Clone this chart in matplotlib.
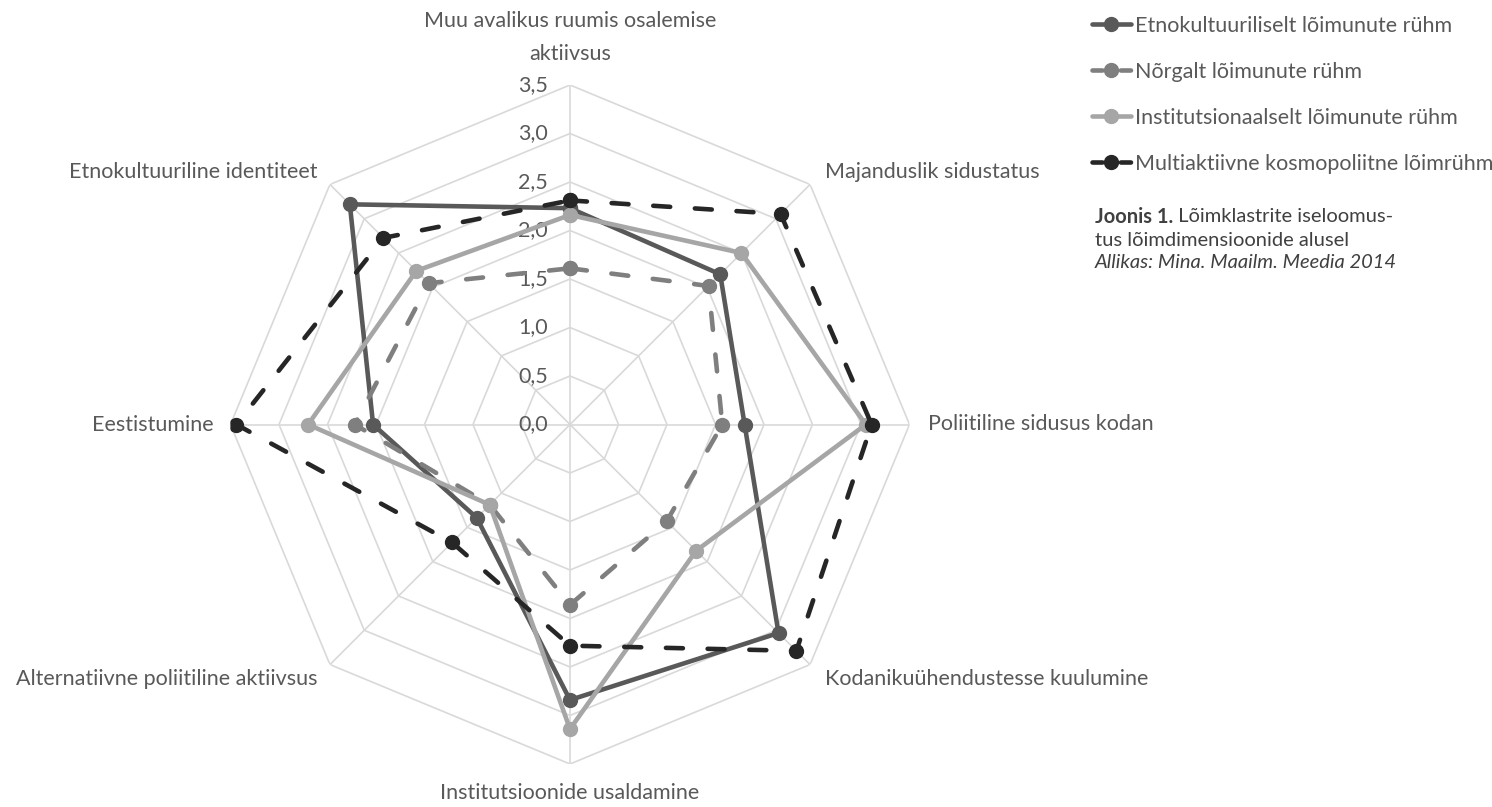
import numpy as np
import matplotlib
matplotlib.use("Agg")
import matplotlib.pyplot as plt
from matplotlib.lines import Line2D

plt.rcParams['font.family'] = ['Lato', 'DejaVu Sans']

categories = [
    "Muu avalikus ruumis osalemise\naktiivsus",
    "Majanduslik sidustatus",
    "Poliitiline sidusus kodan",
    "Kodanikuühendustesse kuulumine",
    "Institutsioonide usaldamine",
    "Alternatiivne poliitiline aktiivsus",
    "Eestistumine",
    "Etnokultuuriline identiteet",
]

series_names = [
    "Etnokultuuriliselt lõimunute rühm",
    "Nõrgalt lõimunute rühm",
    "Institutsionaalselt lõimunute rühm",
    "Multiaktiivne kosmopoliitne lõimrühm",
]

etno = [2.23, 2.19, 1.80, 3.04, 2.84, 1.36, 2.03, 3.21]
norgalt = [1.61, 2.02, 1.57, 1.41, 1.86, 1.17, 2.22, 2.06]
instit = [2.16, 2.50, 3.05, 1.84, 3.14, 1.17, 2.70, 2.24]
multi = [2.31, 3.07, 3.11, 3.30, 2.28, 1.72, 3.44, 2.72]

ticks = [0.0, 0.5, 1.0, 1.5, 2.0, 2.5, 3.0, 3.5]
tick_labels = ["0,0", "0,5", "1,0", "1,5", "2,0", "2,5", "3,0", "3,5"]

caption_bold = "Joonis 1."
caption_rest = " Lõimklastrite iseloomus-"
caption_line2 = "tus lõimdimensioonide alusel"
caption_source = "Allikas: Mina. Maailm. Meedia 2014"

W, H = 1492, 807
fig = plt.figure(figsize=(W / 100, H / 100), dpi=100)
cx, cy, R = 570, 424.5, 339.5
ax = fig.add_axes([(cx - R) / W, (H - cy - R) / H, 2 * R / W, 2 * R / H], projection='polar')
ax.set_theta_zero_location('N')
ax.set_theta_direction(-1)
ax.set_ylim(0, 3.5)
ax.grid(False)
ax.set_xticks([])
ax.set_yticks([])
ax.spines['polar'].set_visible(False)
ax.patch.set_visible(False)

n = len(categories)
theta = np.arange(n) * 2 * np.pi / n
theta_c = np.append(theta, theta[0])

grid_col = '#d9d9d9'
for t in ticks[1:]:
    ax.plot(theta_c, [t] * (n + 1), color=grid_col, lw=1.2, zorder=1)
for th in theta:
    ax.plot([th, th], [0, ticks[-1]], color=grid_col, lw=1.2, zorder=1)

text_col = '#595959'
fs = 15.5
for t, lab in zip(ticks, tick_labels):
    ax.annotate(lab, xy=(0, t), xytext=(-16, 0), textcoords='offset points',
                ha='right', va='center', fontsize=fs, color=text_col)

# axis labels
offsets = [(0, 15, 'center', 'bottom'), (11, 9, 'left', 'center'), (13, 0, 'left', 'center'),
           (11, -10.5, 'left', 'center'), (0, -20.8, 'center', 'center'),
           (-9, -10.5, 'right', 'center'), (-12, 0, 'right', 'center'), (-9, 9, 'right', 'center')]
for th, lab, (dx, dy, ha, va) in zip(theta, categories, offsets):
    ax.annotate(lab, xy=(th, 3.5), xytext=(dx, dy), textcoords='offset points',
                ha=ha, va=va, fontsize=fs, color=text_col, multialignment='center',
                linespacing=1.8)

styles = [
    dict(color='#595959', ls='-'),
    dict(color='#7f7f7f', ls='--'),
    dict(color='#a6a6a6', ls='-'),
    dict(color='#262626', ls='--'),
]
data = [etno, norgalt, instit, multi]
handles = []
for i, (vals, st, name) in enumerate(zip(data, styles, series_names)):
    v = np.append(vals, vals[0])
    kw = dict(color=st['color'], lw=3.3, marker='o', markersize=10,
              solid_capstyle='round', dash_capstyle='round', zorder=3 + i)
    if st['ls'] == '--':
        ax.plot(theta_c, v, dashes=(3.7, 5.4), **kw)
        h = Line2D([], [], dashes=(2.2, 4.0), **kw)
    else:
        ax.plot(theta_c, v, **kw)
        h = Line2D([], [], **kw)
    handles.append(h)

leg = fig.legend(handles, series_names, loc='upper left',
                 bbox_to_anchor=(1092 / W, (H - 16) / H), frameon=False,
                 fontsize=fs, handlelength=1.8, handletextpad=0.2,
                 labelspacing=1.2, borderpad=0, borderaxespad=0, numpoints=1)
for txt in leg.get_texts():
    txt.set_color(text_col)

cap_col = '#404040'
cfs = 14.5
t1 = fig.text(1095 / W, 1 - 217 / H, caption_bold, fontsize=cfs, fontweight='bold',
              color=cap_col, va='center', ha='left')
fig.canvas.draw()
ax.annotate(caption_rest, xy=(1, 0.5), xycoords=t1, va='center', ha='left',
            fontsize=cfs, color=cap_col)
fig.text(1095 / W, 1 - 240 / H, caption_line2, fontsize=cfs, color=cap_col, va='center', ha='left')
fig.text(1095 / W, 1 - 262 / H, caption_source, fontsize=cfs, color=cap_col, style='italic',
         va='center', ha='left')

fig.savefig('out.png', dpi=100)
